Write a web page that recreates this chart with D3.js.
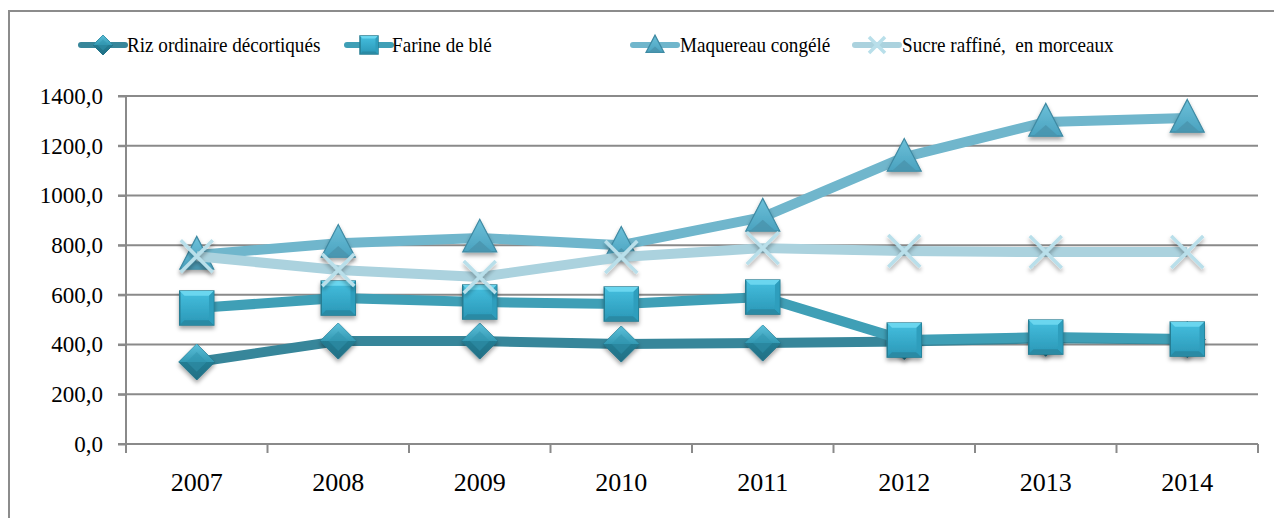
<!DOCTYPE html>
<html>
<head>
<meta charset="utf-8">
<script src="https://cdn.jsdelivr.net/npm/d3@7"></script>
<style>
  body { margin: 0; background: #fff; font-family: 'Liberation Serif'; }
</style>
</head>
<body>
<svg id="chart" width="1274" height="518" font-family="Liberation Serif"></svg>
<script>
// data
const years = ["2007", "2008", "2009", "2010", "2011", "2012", "2013", "2014"];
const riz = [330, 414, 414, 402, 406, 412, 425, 420];
const farine = [547, 587, 571, 563, 591, 418, 430, 422];
const maquereau = [760, 808, 829, 800, 913, 1154, 1295, 1311];
const sucre = [755, 700, 672, 752, 788, 776, 772, 772];
const seriesNames = ["Riz ordinaire décortiqués", "Farine de blé", "Maquereau congélé", "Sucre raffiné,\u00a0 en morceaux"];
const yTicks = [0, 200, 400, 600, 800, 1000, 1200, 1400];

const series = [
  {name: seriesNames[0], values: riz, color: "#37869a", marker: "diamond"},
  {name: seriesNames[1], values: farine, color: "#3f9fb6", marker: "square"},
  {name: seriesNames[2], values: maquereau, color: "#70b6cc", marker: "triangle"},
  {name: seriesNames[3], values: sucre, color: "#abd2de", marker: "cross"}
];

const FONT = "Liberation Serif";

const svg = d3.select("#chart");
const margin = {left: 126, right: 1258, top: 96, bottom: 444};

const x = d3.scaleBand().domain(years).range([margin.left, margin.right]);
const cx = d => x(d) + x.bandwidth() / 2;
const y = d3.scaleLinear().domain([0, 1400]).range([margin.bottom, margin.top]);

// defs: gradients + shadow
const defs = svg.append("defs");
const shadow = defs.append("filter").attr("id", "shadow").attr("x", "-30%").attr("y", "-30%").attr("width", "160%").attr("height", "170%");
shadow.append("feDropShadow").attr("dx", 0).attr("dy", 3).attr("stdDeviation", 2).attr("flood-color", "#000").attr("flood-opacity", 0.35);

function grad(id, stops) {
  const g = defs.append("linearGradient").attr("id", id).attr("x1", 0).attr("y1", 0).attr("x2", 0).attr("y2", 1);
  stops.forEach(s => g.append("stop").attr("offset", s[0]).attr("stop-color", s[1]));
}
grad("gDiamondTop", [[0, "#5cc0da"], [1, "#3399b3"]]);
grad("gDiamondBot", [[0, "#2a8aa2"], [1, "#1f6f84"]]);
grad("gSquare", [[0, "#45bfdf"], [1, "#2a97b6"]]);
grad("gTri", [[0, "#6cc0d9"], [1, "#4aa2bf"]]);

// outer frame
svg.append("path").attr("d", "M9,518 L9,11 L1274,11")
  .attr("fill", "none").attr("stroke", "#8c8c8c").attr("stroke-width", 2);

// gridlines
svg.append("g").selectAll("line").data(yTicks).join("line")
  .attr("x1", margin.left - 8).attr("x2", margin.right)
  .attr("y1", d => y(d)).attr("y2", d => y(d))
  .attr("stroke", "#8a8a8a").attr("stroke-width", 2);

// y axis
const yAxis = d3.axisLeft(y).tickValues(yTicks).tickSize(8).tickPadding(15)
  .tickFormat(d => d3.format(".1f")(d).replace(".", ","));
const gy = svg.append("g").attr("transform", `translate(${margin.left},0)`).call(yAxis);
gy.attr("font-family", FONT).attr("font-size", 23);
gy.select(".domain").attr("stroke", "#8a8a8a").attr("stroke-width", 2).attr("d", `M0,${margin.top}V${margin.bottom}`);
gy.selectAll(".tick line").attr("stroke", "#8a8a8a").attr("stroke-width", 2);
gy.selectAll("text").attr("font-family", FONT).attr("fill", "#000");

// x axis
const xAxis = d3.axisBottom(x).tickSize(0).tickPadding(29);
const gx = svg.append("g").attr("transform", `translate(0,${margin.bottom})`).call(xAxis);
gx.attr("font-family", FONT).attr("font-size", 26);
gx.select(".domain").remove();
gx.selectAll("text").attr("font-family", FONT).attr("fill", "#000");
const bounds = years.map(d => x(d)).concat([x(years[years.length - 1]) + x.bandwidth()]);
gx.selectAll(".bound").data(bounds).join("line").attr("class", "bound")
  .attr("x1", d => d).attr("x2", d => d).attr("y1", 0).attr("y2", 9)
  .attr("stroke", "#8a8a8a").attr("stroke-width", 2);

// markers
function drawMarker(g, type, s) {
  if (type === "diamond") {
    g.append("path").attr("d", `M0,${-s} L${s},0 L0,${s} L${-s},0Z`).attr("fill", "url(#gDiamondBot)").attr("stroke", "#23748a").attr("stroke-width", 1);
    g.append("path").attr("d", `M0,${-s} L${s},0 L${-s},0Z`).attr("fill", "url(#gDiamondTop)");
    g.append("path").attr("d", `M0,${-s * 0.55} L${s * 0.55},0 L0,${s * 0.55} L${-s * 0.55},0Z`).attr("fill", "#2f93ad").attr("opacity", 0.5);
  } else if (type === "square") {
    g.append("rect").attr("x", -s).attr("y", -s).attr("width", 2 * s).attr("height", 2 * s).attr("fill", "url(#gSquare)").attr("stroke", "#267d93").attr("stroke-width", 1.5);
    const i = s * 0.72;
    g.append("path").attr("d", `M${-s},${-s} L${s},${-s} L${i},${-i} L${-i},${-i}Z`).attr("fill", "#6ad6ef");
    g.append("path").attr("d", `M${-s},${s} L${s},${s} L${i},${i} L${-i},${i}Z`).attr("fill", "#2a8aa4");
    g.append("path").attr("d", `M${s},${-s} L${s},${s} L${i},${i} L${i},${-i}Z`).attr("fill", "#2f9ebd");
  } else if (type === "triangle") {
    const h = s * 1.1;
    g.append("path").attr("d", `M0,${-h} L${s},${h * 0.75} L${-s},${h * 0.75}Z`).attr("fill", "url(#gTri)").attr("stroke", "#3f8aa3").attr("stroke-width", 1.2);
    g.append("path").attr("d", `M0,${h * 0.15} L${s * 0.75},${h * 0.75} L${-s * 0.75},${h * 0.75}Z`).attr("fill", "#4a93ad").attr("opacity", 0.8);
  } else if (type === "cross") {
    g.append("path").attr("d", `M${-s},${-s} L${s},${s} M${s},${-s} L${-s},${s}`).attr("stroke", "#b9dfea").attr("stroke-width", 3.5).attr("fill", "none");
  }
}

const markerSize = {diamond: 18, square: 17, triangle: 17, cross: 16};

const line = d3.line().x((d, i) => cx(years[i])).y(d => y(d));

series.forEach(s => {
  const g = svg.append("g");
  g.append("path").datum(s.values).attr("d", line)
    .attr("fill", "none").attr("stroke", s.color).attr("stroke-width", 10).attr("stroke-linejoin", "round");
  g.selectAll("g.m").data(s.values).join("g").attr("class", "m")
    .attr("transform", (d, i) => `translate(${cx(years[i])},${y(d)})`)
    .attr("filter", "url(#shadow)")
    .each(function() { drawMarker(d3.select(this), s.marker, markerSize[s.marker]); });
});

// legend (text a bit narrow, like the original)
const legendItems = [
  {x: 81, tx: 127},
  {x: 347, tx: 392},
  {x: 633, tx: 680},
  {x: 855, tx: 902}
];
const legendSize = {diamond: 10, square: 9, triangle: 9, cross: 8};
const lg = svg.append("g");
series.forEach((s, i) => {
  const it = legendItems[i];
  const g = lg.append("g");
  g.append("line").attr("x1", it.x).attr("x2", it.x + 44).attr("y1", 45).attr("y2", 45)
    .attr("stroke", s.color).attr("stroke-width", 6).attr("stroke-linecap", "round");
  const m = g.append("g").attr("transform", `translate(${it.x + 22},45)`);
  drawMarker(m, s.marker, legendSize[s.marker]);
  g.append("text").attr("transform", `translate(${it.tx},52) scale(0.89,1)`)
    .attr("font-family", FONT).attr("font-size", 21.5).attr("fill", "#000").text(s.name);
});
</script>
</body>
</html>
